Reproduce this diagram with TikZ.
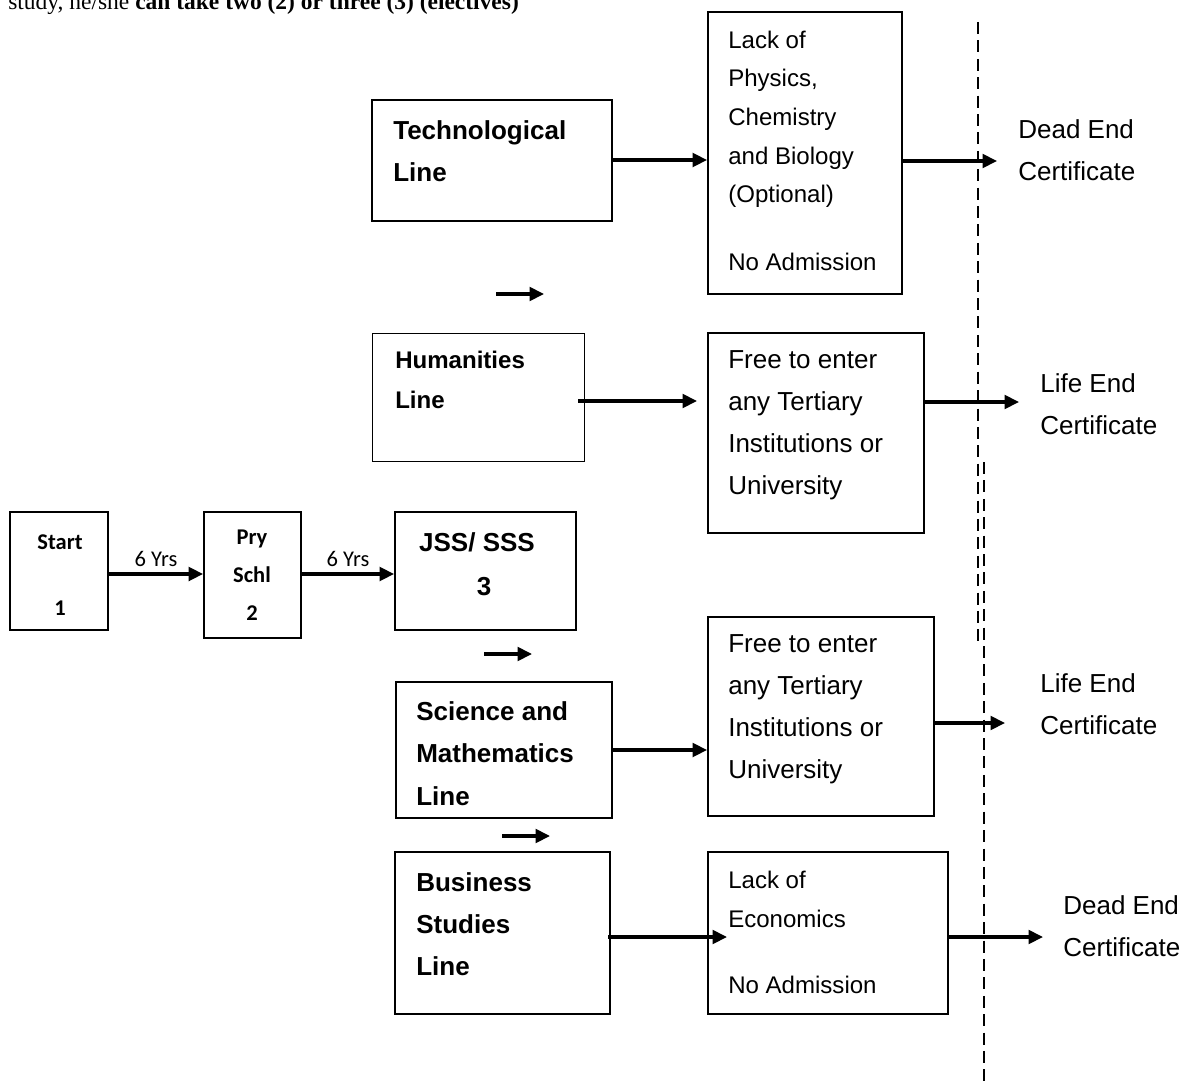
\documentclass[tikz,border=0pt]{standalone}
\usepackage{fontspec}
\setmainfont{Liberation Sans}
\newfontfamily\calfont{Carlito}
\newfontfamily\serfont{Liberation Serif}
\usetikzlibrary{arrows.meta}

\tikzset{
  box/.style={draw, line width=1.3pt, inner sep=0pt},
  conn/.style={line width=2.3pt, -{Triangle[length=0.36cm,width=0.34cm]}},
  divider/.style={line width=1.9pt, dash pattern=on 0.3cm off 0.16cm},
  bigtxt/.style={anchor=west, align=left, inner sep=0pt, font=\fontsize{18.5}{29.9}\selectfont},
  smalltxt/.style={anchor=west, align=left, inner sep=0pt, font=\fontsize{17.1}{27.4}\selectfont},
  stagetxt/.style={align=center, inner sep=0pt, font=\calfont\bfseries\fontsize{16}{27}\selectfont},
  years/.style={midway, above, inner sep=0.15cm, font=\calfont\fontsize{16}{18}\selectfont},
}

\begin{document}
\begin{tikzpicture}[x=0.025cm, y=-0.025cm]
        \useasboundingbox (0,0) rectangle (1183,1084);
        % cut-off sentence on top
        \node[anchor=base west, inner sep=0pt, font=\serfont\fontsize{16.7}{20}\selectfont] (intro) at (8,10)
            {study, he/she \textbf{can take two (2) or three (3) (electives)}};

        % boxes
        \node[box, minimum width=2.45cm, minimum height=2.95cm] (start) at (59,571) {};
        \node[box, minimum width=2.425cm, minimum height=3.15cm] (pry) at (252.5,575) {};
        \node[box, minimum width=4.525cm, minimum height=2.95cm] (jss) at (485.5,571) {};
        \node[box, minimum width=6cm, minimum height=3.025cm] (tech) at (492,160.5) {};
        \node[box, minimum width=4.85cm, minimum height=7.05cm] (lack1) at (805,153) {};
        \node[box, minimum width=5.3cm, minimum height=3.2cm] (hum) at (478.5,397.5) {};
        \node[box, minimum width=5.4cm, minimum height=5cm] (free1) at (816,433) {};
        \node[box, minimum width=5.4cm, minimum height=3.4cm] (sci) at (504,750) {};
        \node[box, minimum width=5.65cm, minimum height=4.975cm] (free2) at (821,716.5) {};
        \node[box, minimum width=5.375cm, minimum height=4.05cm] (bus) at (502.5,933) {};
        \node[box, minimum width=6cm, minimum height=4.05cm] (lack2) at (828,933) {};

        % texts
        \node[stagetxt] (starttxt) at (60,575) {Start\\[0.7cm]1};
        \node[stagetxt] (prytxt) at (252,575) {Pry\\Schl\\2};
        \node[align=center, inner sep=0pt, font=\bfseries\fontsize{18.5}{31.3}\selectfont] (jsstxt) at (477,564) {JSS/ SSS\\\ \ 3};
        \node[bigtxt, font=\bfseries\fontsize{18.5}{29.9}\selectfont] (techtxt) at (393,151) {Technological\\Line};
        \node[smalltxt] (lack1txt) at (728,151) {Lack of\\Physics,\\Chemistry\\and Biology\\(Optional)\\[0.74cm]No Admission};
        \node[bigtxt, font=\bfseries\fontsize{17.1}{28.4}\selectfont] (humtxt) at (395,380) {Humanities\\Line};
        \node[bigtxt] (free1txt) at (728,425.5) {Free to enter\\any Tertiary\\Institutions or\\University};
        \node[bigtxt, font=\bfseries\fontsize{18.5}{30.2}\selectfont] (scitxt) at (416,753.5) {Science and\\Mathematics\\Line};
        \node[bigtxt] (free2txt) at (728,709) {Free to enter\\any Tertiary\\Institutions or\\University};
        \node[bigtxt, font=\bfseries\fontsize{18.5}{29.9}\selectfont] (bustxt) at (416,924) {Business\\Studies\\Line};
        \node[smalltxt] (lack2txt) at (728,932.5) {Lack of\\Economics\\[0.68cm]No Admission};
        \node[bigtxt] (cert1) at (1018,150.5) {Dead End\\Certificate};
        \node[bigtxt] (cert2) at (1040,404) {Life End\\Certificate};
        \node[bigtxt] (cert3) at (1040,704) {Life End\\Certificate};
        \node[bigtxt] (cert4) at (1063,926.5) {Dead End\\Certificate};

        % arrow ends
        \coordinate (yrow) at (0,574);
        \coordinate (ytech) at (0,160);
        \coordinate (ysci) at (0,750);
        \coordinate (tip1) at (997,161);
        \coordinate (hstart) at (578,401);
        \coordinate (htip) at (697,401);
        \coordinate (tip2) at (1019,402);
        \coordinate (tip3) at (1005,723);
        \coordinate (bstart) at (608,937);
        \coordinate (btip) at (727,937);
        \coordinate (tip4) at (1043,937);
        \coordinate (s1a) at (496,294);
        \coordinate (s1b) at (544,294);
        \coordinate (s2a) at (484,654);
        \coordinate (s2b) at (532,654);
        \coordinate (s3a) at (502,836);
        \coordinate (s3b) at (550,836);

        % arrows
        \draw[conn] (start.east |- yrow) -- (pry.west |- yrow) node[years] {6 Yrs};
        \draw[conn] (pry.east |- yrow) -- (jss.west |- yrow) node[years] {6 Yrs};
        \draw[conn] (tech.east |- ytech) -- (lack1.west |- ytech);
        \draw[conn] (lack1.east |- tip1) -- (tip1);
        \draw[conn] (hstart) -- (htip);
        \draw[conn] (free1.east |- tip2) -- (tip2);
        \draw[conn] (sci.east |- ysci) -- (free2.west |- ysci);
        \draw[conn] (free2.east |- tip3) -- (tip3);
        \draw[conn] (bstart) -- (btip);
        \draw[conn] (lack2.east |- tip4) -- (tip4);
        \draw[conn] (s1a) -- (s1b);
        \draw[conn] (s2a) -- (s2b);
        \draw[conn] (s3a) -- (s3b);

        % dashed dividers
        \coordinate (dA1) at (978,22);
        \coordinate (dA2) at (978,645);
        \coordinate (dB1) at (984,462);
        \coordinate (dB2) at (984,1084);
        \draw[divider] (dA1) -- (dA2);
        \draw[divider] (dB1) -- (dB2);
      \end{tikzpicture}
\end{document}
